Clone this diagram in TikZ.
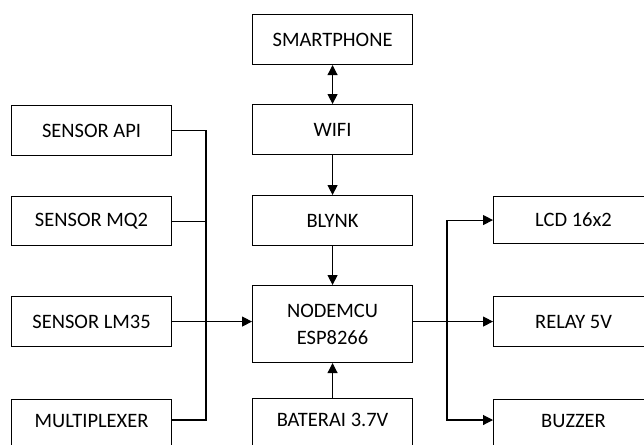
\documentclass[tikz,border=0pt]{standalone}
\usepackage{fontspec}
\setmainfont{Carlito}
\usetikzlibrary{arrows.meta}
\begin{document}
\begin{tikzpicture}[x=1pt,y=-1pt,
  box/.style={draw, line width=1.1pt, inner sep=0pt, anchor=north west,
    font=\fontsize{20.5}{27}\selectfont, align=center, minimum width=160pt},
  cut/.style={minimum height=50pt, text height=14pt, text depth=8pt},
  conn/.style={line width=1.1pt},
  arr/.style={conn, -{Triangle[length=10pt,width=10pt]}},
  darr/.style={conn, {Triangle[length=10pt,width=10pt]}-{Triangle[length=10pt,width=10pt]}}]
\path[use as bounding box] (0,0) rectangle (644,444);
\clip (0,0) rectangle (644,444);
% left column
\node[box, minimum height=50pt] (api) at (11,105) {SENSOR API};
\node[box, minimum height=49pt] (mq2) at (11,196) {SENSOR MQ2};
\node[box, minimum height=50pt] (lm35) at (11,296) {SENSOR LM35};
\node[box, cut] (mux) at (11,399) {MULTIPLEXER};
% center column
\node[box, minimum height=50pt] (sm) at (252,14) {SMARTPHONE};
\node[box, minimum height=50pt] (wifi) at (252,104) {WIFI};
\node[box, minimum height=50pt] (blynk) at (252,195) {BLYNK};
\node[box, minimum height=77pt] (mcu) at (252,285) {NODEMCU\\ESP8266};
\node[box, cut] (bat) at (252,398) {BATERAI 3.7V};
% right column
\node[box, minimum height=47pt] (lcd) at (493,196) {LCD 16x2};
\node[box, minimum height=50pt] (relay) at (493,296) {RELAY 5V};
\node[box, cut] (buz) at (493,399) {BUZZER};
% bus coordinates
\coordinate (bx) at (206,0);
\coordinate (rx) at (447,0);
\coordinate (muxin) at ([yshift=-21pt]mux.north east);
\coordinate (buzin) at ([yshift=-21pt]buz.north west);
% left bus
\draw[conn] (api.east) -| (bx |- muxin) -- (muxin);
\draw[conn] (mq2.east) -- (mq2.east -| bx);
\draw[arr] (lm35.east) -- (lm35.east -| mcu.west);
% center chain
\draw[darr] (sm) -- (wifi);
\draw[arr] (wifi) -- (blynk);
\draw[arr] (blynk) -- (mcu);
\draw[arr] (bat) -- (mcu);
% right bus
\draw[arr] (mcu.east |- relay.west) -- (relay.west);
\draw[arr] (rx |- relay.west) |- (lcd.west);
\draw[arr] (rx |- relay.west) |- (buzin);
\end{tikzpicture}
\end{document}
